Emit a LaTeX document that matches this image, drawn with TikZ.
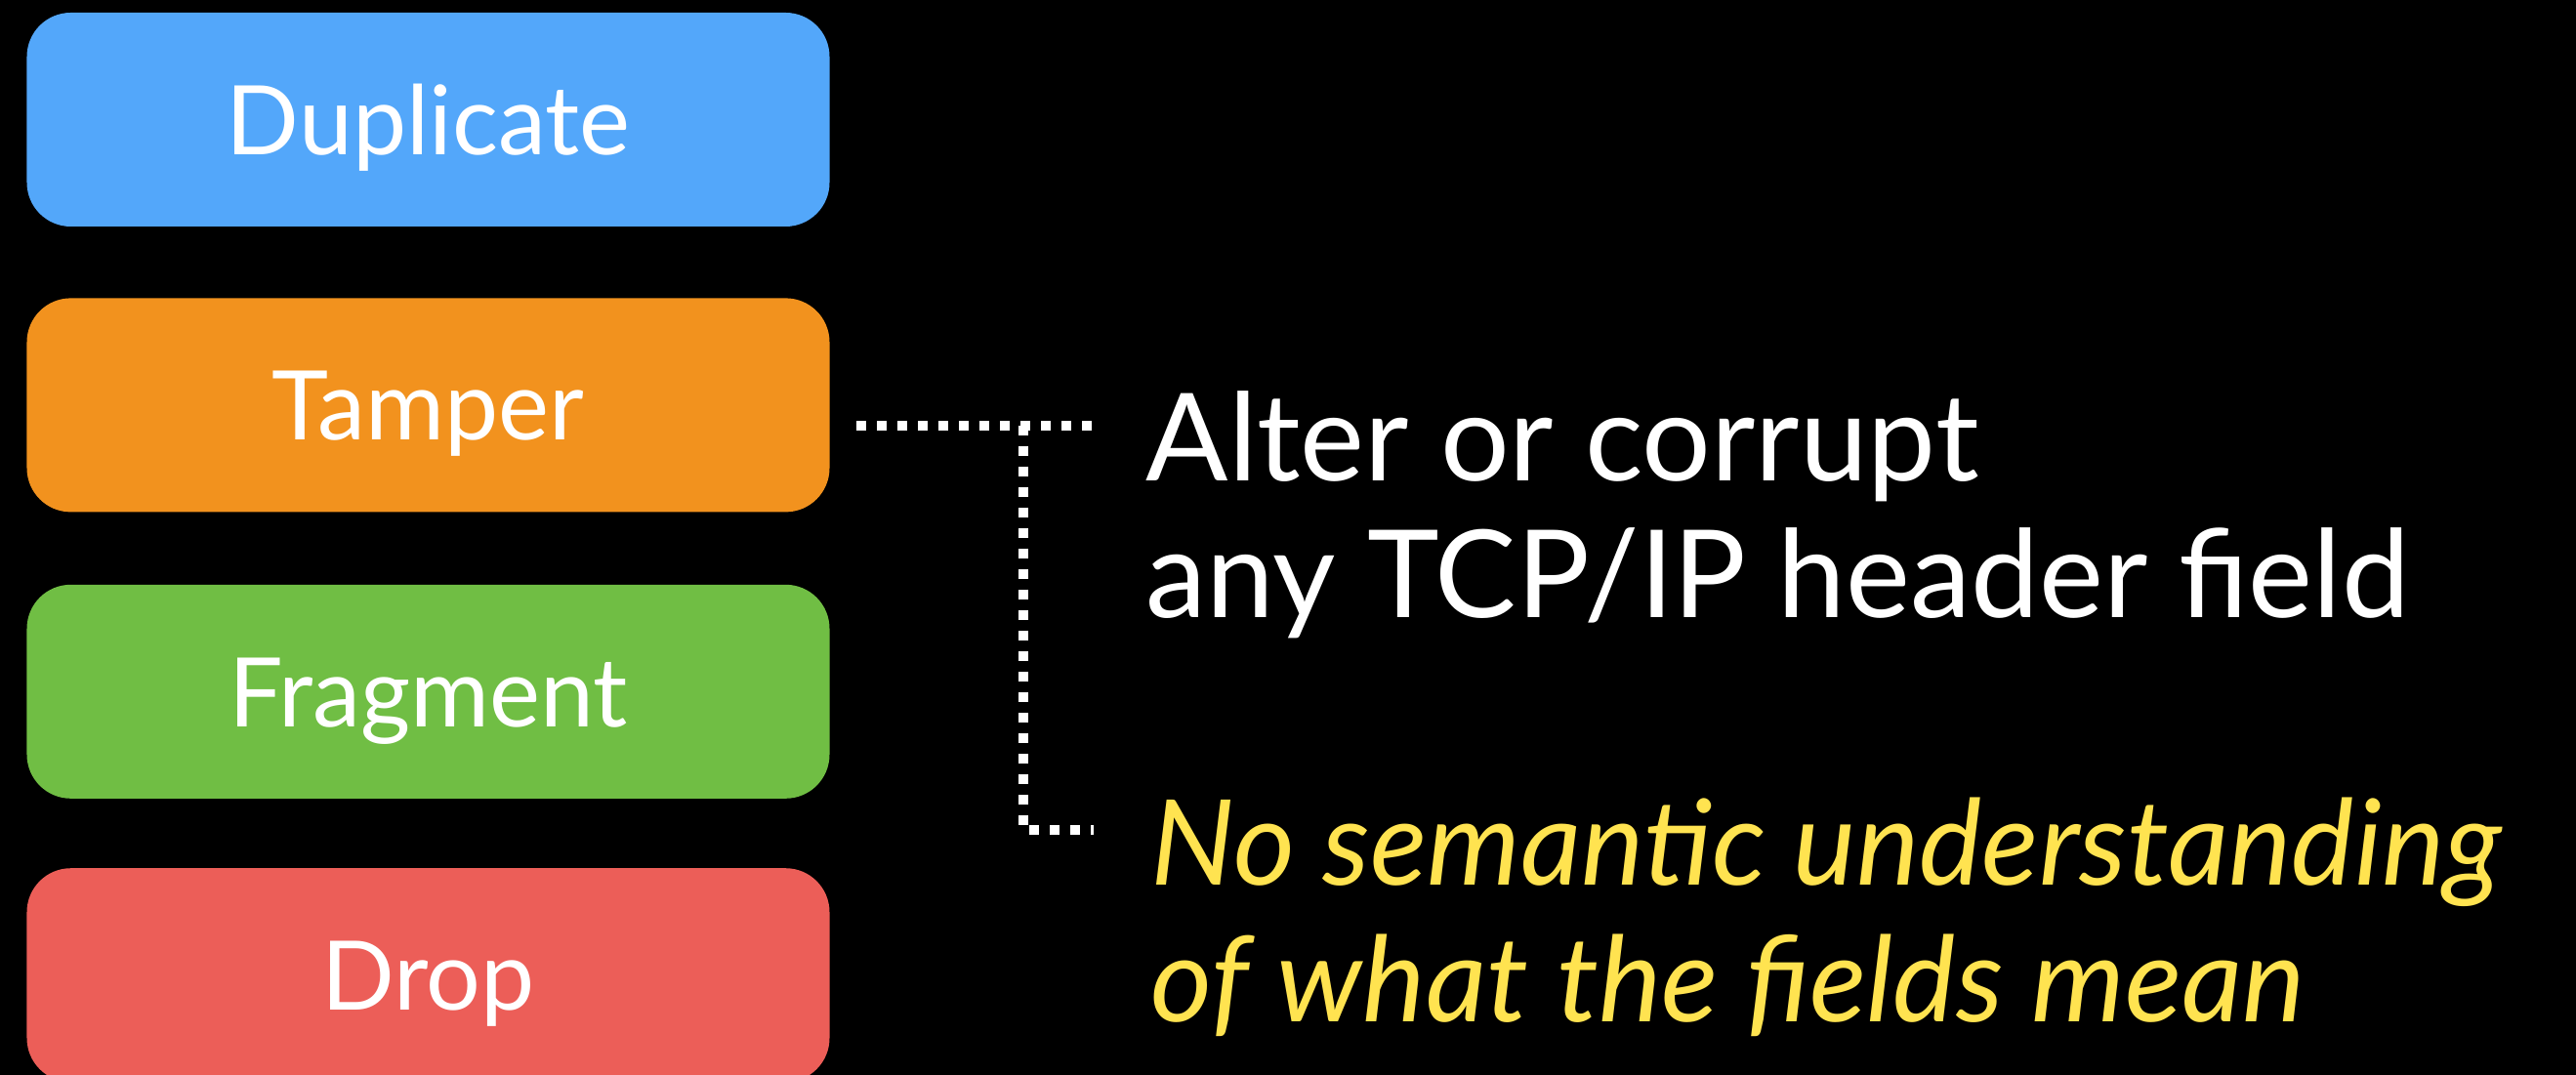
\documentclass[tikz,border=0pt]{standalone}
\usepackage{fontspec}
\setmainfont{Lato}
\usepackage{tikz}
\usetikzlibrary{positioning}

\definecolor{dupblue}{RGB}{83,167,250}
\definecolor{tamporange}{RGB}{242,146,30}
\definecolor{fraggreen}{RGB}{112,190,68}
\definecolor{dropred}{RGB}{236,94,88}
\definecolor{noteyellow}{RGB}{255,227,80}

\begin{document}
\begin{tikzpicture}[node distance=0.73cm,
    box/.style={rectangle, rounded corners=0.45cm, minimum width=8.22cm, minimum height=2.19cm,
        inner sep=0pt, text=white, text height=0.72cm, text depth=0pt,
        font=\fontsize{28}{34}\selectfont},
    dots/.style={draw=white, line width=0.1cm, dash pattern=on 0.1cm off 0.11cm},
    note/.style={anchor=base west, inner sep=0pt, align=left,
        font=\fontsize{35.5}{40.1}\selectfont}]
    \fill[black] (0,0) rectangle (26.38,-11.01);
    \useasboundingbox (0,0) rectangle (26.38,-11.01);
    \node[box, fill=dupblue] (dup) at (4.385,-1.225) {Duplicate};
    \node[box, below=0.72cm of dup, fill=tamporange] (tamper) {Tamper};
    \node[box, below=0.73cm of tamper, fill=fraggreen] (frag) {Fragment};
    \node[box, below=0.70cm of frag, fill=dropred] (drop) {Drop};
    % notes on the right
    \node[note, text=white] (alter) at (11.73,-6.33) {Alter or corrupt\\any TCP/IP header field};
    \node[note, text=noteyellow, font=\fontsize{34.6}{40.1}\selectfont\itshape] (nosem) at (11.78,-10.47)
        {No semantic understanding\\of what the fields mean};
    % dotted bracket
    \coordinate (tstart) at (8.77,-4.36);
    \coordinate (tend) at (11.25,-4.36);
    \coordinate (split) at (10.48,-4.36);
    \coordinate (bend) at (10.48,-8.50);
    \coordinate (nend) at (11.20,-8.50);
    \draw[dots] (tstart) -- (tend);
    \draw[dots] (split) -- (bend) -- (nend);
\end{tikzpicture}
\end{document}
